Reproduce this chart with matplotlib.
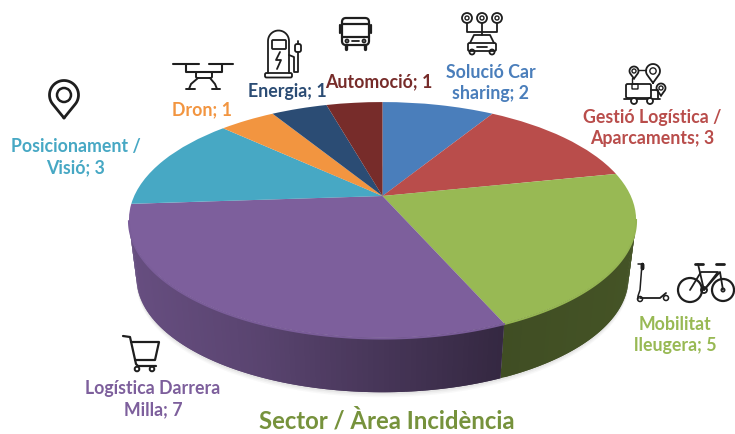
import matplotlib
matplotlib.use('Agg')
import matplotlib.pyplot as plt
import matplotlib.transforms as mtransforms
from matplotlib.patches import Circle, FancyBboxPatch
import numpy as np

labels = ["Solució Car\nsharing; 2", "Gestió Logística /\nAparcaments; 3", "Mobilitat\nlleugera; 5",
          "Logística Darrera\nMilla; 7", "Posicionament /\nVisió; 3", "Dron; 1", "Energia; 1", "Automoció; 1"]
values = [2, 3, 5, 7, 3, 1, 1, 1]
colors = ["#4a7ebb", "#b94d4b", "#98b954", "#7d5f9c", "#47a8c4", "#f29540", "#2b4c74", "#772c2a"]
label_xy = [(491, 83), (652, 128), (675, 335), (153, 399), (76, 157), (202, 110), (287, 92), (379, 82)]
title = "Sector / Àrea Incidència"

# where the pie sits in the picture (pixels)
CX, CY = 382.5, 196
A, B, K = 248.3, 113.0, 0.203
DEPTH_Y, DEPTH_S = 58, 0.97
RIM_CY = 220
INK = "#1e1e1e"


class DiscProjection(mtransforms.Transform):
    # tilted disc with perspective: the far side gets smaller
    input_dims = 2
    output_dims = 2

    def transform_non_affine(self, xy):
        xy = np.asarray(xy, dtype=float)
        w = 1 + K * xy[:, 1]
        return np.column_stack([CX + A * xy[:, 0] / w, CY - B * xy[:, 1] / w])


def drop(xy):
    # top rim point -> matching point on the lower rim
    return np.column_stack([CX + DEPTH_S * (xy[:, 0] - CX),
                            RIM_CY + DEPTH_Y + DEPTH_S * (xy[:, 1] - RIM_CY)])


def shade(color, f):
    return tuple(c * f for c in matplotlib.colors.to_rgb(color))


def line(ax, xs, ys, lw=1.3):
    ax.plot(xs, ys, color=INK, lw=lw, solid_capstyle="round", zorder=6)


def ring(ax, x, y, r, lw=1.3, fc="none"):
    ax.add_patch(Circle((x, y), r, fc=fc, ec=INK, lw=lw, zorder=6))


def box(ax, x, y, w, h, lw=1.3, round_=1.5):
    ax.add_patch(FancyBboxPatch((x, y), w, h, boxstyle=f"round,pad=0,rounding_size={round_}",
                                fc="none", ec=INK, lw=lw, zorder=6))


def draw_pin(ax):
    t = np.linspace(np.radians(-40), np.radians(220), 40)
    xs = 64 + 14.5 * np.cos(t)
    ys = 95 - 14.5 * np.sin(t)
    line(ax, np.r_[64, xs, 64], np.r_[118, ys, 118], lw=2)
    ring(ax, 64, 95, 7, lw=1.8)


def draw_drone(ax):
    line(ax, [173, 199], [64, 64], lw=1.5)
    line(ax, [209, 233], [64, 64], lw=1.5)
    line(ax, [186, 186, 192, 216, 222, 222], [64, 72, 72, 72, 72, 64], lw=1.5)
    box(ax, 196, 72, 16, 6, lw=1.4)
    line(ax, [198, 191, 189], [78, 84, 89], lw=1.4)
    line(ax, [210, 215, 217], [78, 84, 89], lw=1.4)
    line(ax, [186, 195], [89, 89], lw=1.4)
    line(ax, [212, 220], [89, 89], lw=1.4)


def draw_charger(ax):
    t = np.linspace(0, np.pi, 20)
    line(ax, np.r_[268, 278.5 - 10.5 * np.cos(t), 289], np.r_[73, 41 - 10.5 * np.sin(t), 73])
    box(ax, 265, 73, 27, 4.5)
    box(ax, 272, 40, 14, 9, round_=1)
    line(ax, [280, 276, 281, 277], [52, 60, 60, 69])
    line(ax, [289, 294, 294, 298, 298], [55, 57, 72, 72, 52])
    box(ax, 295, 44, 6, 8, round_=2)
    line(ax, [298, 298], [44, 41])


def draw_bus(ax):
    box(ax, 342, 18, 27, 27, lw=1.6, round_=4)
    line(ax, [342, 369], [24, 24], lw=1.6)
    line(ax, [342, 369], [37, 37], lw=1.6)
    line(ax, [352, 359], [41, 41])
    line(ax, [340, 340], [25, 33], lw=1.6)
    line(ax, [371, 371], [25, 33], lw=1.6)
    ring(ax, 347, 41, 1.5)
    ring(ax, 364, 41, 1.5)
    line(ax, [346, 346], [45, 49], lw=2.4)
    line(ax, [365, 365], [45, 49], lw=2.4)


def draw_carshare(ax):
    for x in (467, 482, 497):
        ring(ax, x, 18, 5)
        ring(ax, x, 18, 2, lw=1)
    line(ax, [467, 467, 497, 497], [23, 32, 32, 23])
    line(ax, [482, 482], [23, 35])
    line(ax, [470, 474, 490, 494], [43, 35, 35, 43])
    box(ax, 468, 43, 28, 8)
    ring(ax, 472, 52, 2.5)
    ring(ax, 492, 52, 2.5)
    line(ax, [477, 487], [47, 47])


def draw_logistics(ax):
    box(ax, 626, 84, 25, 14)
    box(ax, 632, 84, 6, 5, lw=1, round_=0.5)
    line(ax, [651, 658, 658], [90, 90, 98])
    line(ax, [624, 660], [99, 99])
    ring(ax, 634, 101, 3, fc="white")
    ring(ax, 650, 101, 3, fc="white")
    for x, y, r in ((634, 71, 4.5), (653, 71, 7), (661, 88, 4.5)):
        t = np.linspace(np.radians(-40), np.radians(220), 25)
        line(ax, np.r_[x, x + r * np.cos(t), x], np.r_[y + 1.7 * r, y - r * np.sin(t), y + 1.7 * r])
        ring(ax, x, y, r * 0.45, lw=1)
    line(ax, [638, 646], [70, 70], lw=1)
    line(ax, [632, 632], [78, 84], lw=1)


def draw_scooter(ax):
    line(ax, [638, 642, 640, 638, 638], [264, 264, 290, 296, 299], lw=1.1)
    line(ax, [642, 642, 642], [264, 268, 264], lw=2.5)
    line(ax, [640, 660, 666], [298, 298, 293], lw=1.3)
    ring(ax, 640, 299, 2.5, lw=1.1)
    ring(ax, 666, 298, 2.5, lw=1.1)


def draw_bike(ax):
    ring(ax, 690, 290, 12, lw=1.6)
    ring(ax, 723, 290, 11, lw=1.6)
    line(ax, [698, 704, 720, 723], [264, 290, 272, 290])
    line(ax, [690, 701, 718, 704], [290, 272, 272, 290])
    line(ax, [695, 703], [264, 264], lw=2)
    line(ax, [716, 724], [264, 264], lw=2)
    ring(ax, 704, 290, 3)
    ring(ax, 723, 290, 1.8, lw=1)


def draw_cart(ax):
    line(ax, [123, 130, 136, 138, 156], [336, 337, 364, 366, 366], lw=1.6)
    line(ax, [131, 159, 155, 135], [342, 342, 360, 360], lw=1.6)
    ring(ax, 137, 369, 2.3, lw=1.4)
    ring(ax, 152, 369, 2.3, lw=1.4)


fig = plt.figure(figsize=(7.35, 4.34), dpi=100)
ax = fig.add_axes([0, 0, 1, 1])

wedges, _ = ax.pie(values, colors=colors, startangle=90, counterclock=False,
                   wedgeprops={"linewidth": 0})

ax.set_aspect("auto")
ax.set_position([0, 0, 1, 1])
ax.set_xlim(0, 735)
ax.set_ylim(434, 0)
ax.axis("off")

proj = DiscProjection()
for wedge in wedges:
    wedge.set_transform(proj + ax.transData)
    wedge.set_zorder(3)

# soft shadow under the disc
t = np.radians(np.linspace(0, 360, 361))
rim_all = proj.transform_non_affine(np.column_stack([np.cos(t), np.sin(t)]))
low_all = drop(rim_all)
for off, alpha in ((5, 0.04), (3.5, 0.05), (2, 0.07)):
    ax.fill(low_all[:, 0], low_all[:, 1] + off, color="#606060", alpha=alpha, lw=0, zorder=1)

# side wall, cut in thin strips so it can darken along the rim
for wedge, color in zip(wedges, colors):
    n = max(2, int(wedge.theta2 - wedge.theta1) + 1)
    t = np.radians(np.linspace(wedge.theta1, wedge.theta2, n))
    t = t[np.sin(t) < -K + 0.01]  # only the part facing the viewer
    if len(t) < 2:
        continue
    rim = proj.transform_non_affine(np.column_stack([np.cos(t), np.sin(t)]))
    low = drop(rim)
    for i in range(len(t) - 1):
        j = min(i + 2, len(t) - 1)  # strips overlap, no seams
        col = shade(color, np.interp(rim[i, 0], [130, 250, 500, 636], [0.82, 0.72, 0.42, 0.45]))
        ax.fill(np.r_[rim[i:j + 1, 0], low[i:j + 1, 0][::-1]],
                np.r_[rim[i:j + 1, 1], low[i:j + 1, 1][::-1]],
                fc=col, lw=0, zorder=2)
    # thin bevel highlight on the front edge
    light = tuple(min(1, c * 0.98) for c in matplotlib.colors.to_rgb(color))
    ax.plot(rim[:, 0], rim[:, 1] + 0.8, color=light, lw=1.4, zorder=4)

for label, color, (x, y) in zip(labels, colors, label_xy):
    ax.text(x, y, label, color=color, ha="center", va="center", fontsize=12.8, fontweight="bold",
            family="Lato", linespacing=1.25, zorder=8)

ax.text(387, 421, title, color="#76923c", ha="center", va="center", fontsize=17.2,
        fontweight="bold", family="Lato", zorder=8)

draw_pin(ax)
draw_drone(ax)
draw_charger(ax)
draw_bus(ax)
draw_carshare(ax)
draw_logistics(ax)
draw_scooter(ax)
draw_bike(ax)
draw_cart(ax)

fig.savefig("out.png", dpi=100, facecolor="white")
plt.close(fig)
